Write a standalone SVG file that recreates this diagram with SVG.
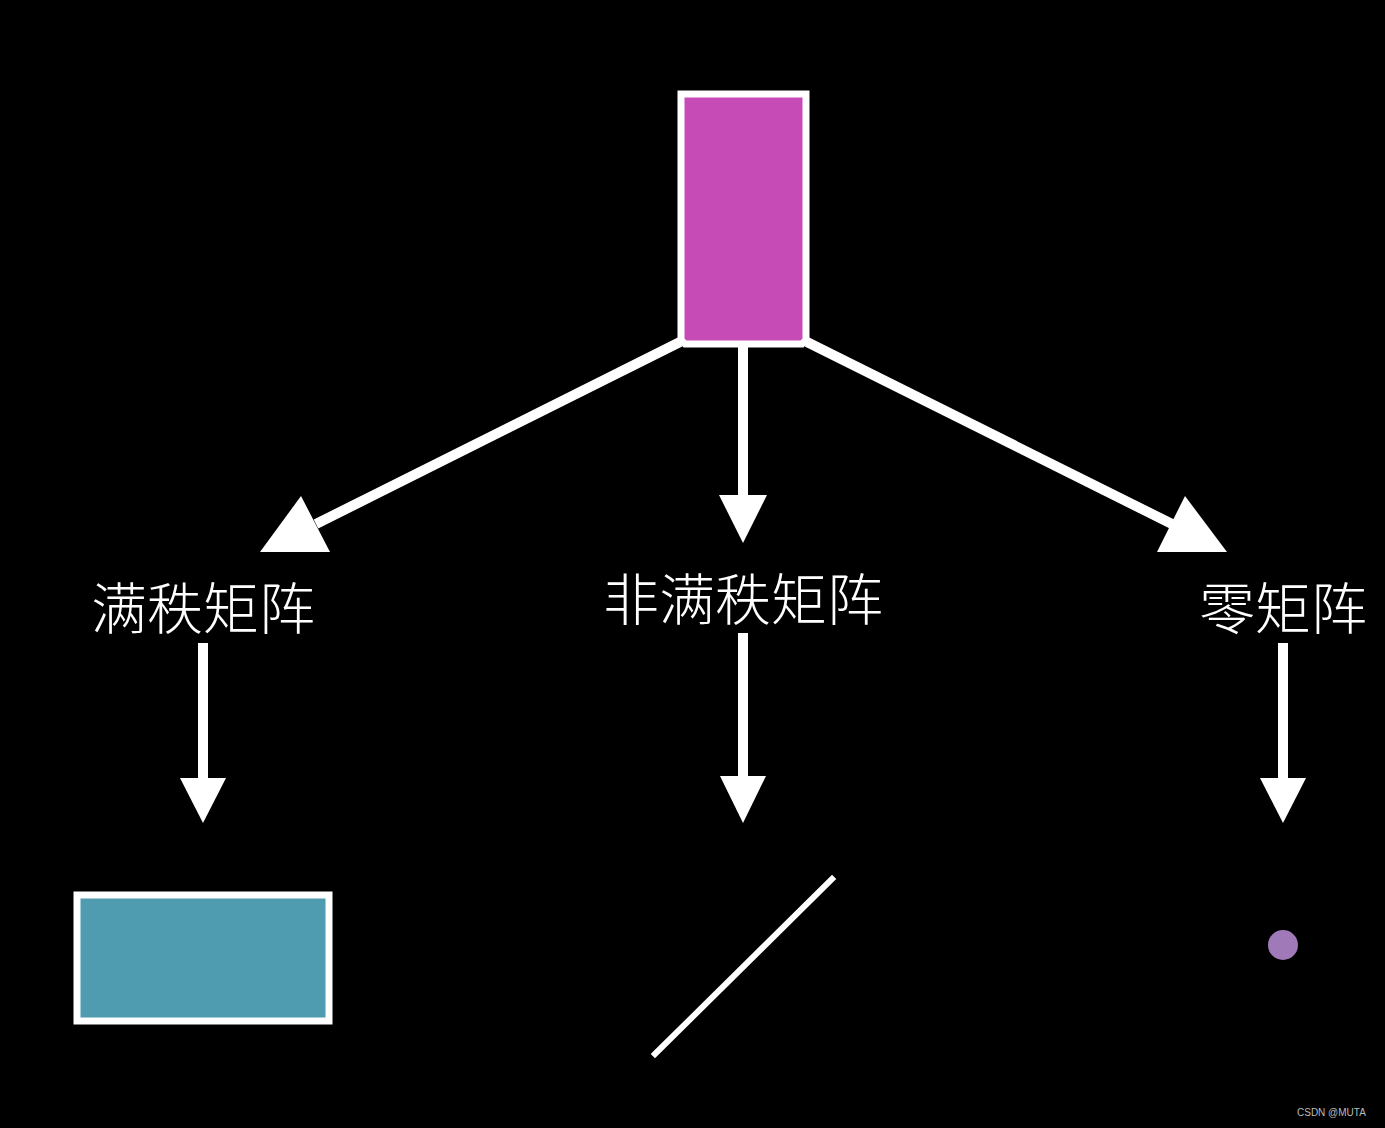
<svg xmlns="http://www.w3.org/2000/svg" width="1385" height="1128" viewBox="0 0 1385 1128">
<style>
.lbl{font-family:"Noto Sans CJK SC","Noto Sans CJK JP",sans-serif;font-size:56px;fill:#ffffff;text-anchor:middle;font-weight:300}
.shaft{stroke:#ffffff;stroke-width:10;fill:none}
.head{fill:#ffffff}
.wm{font-family:"Liberation Sans",Arial,sans-serif;font-size:10px;fill:#bbbbbb}
</style>
<rect width="1385" height="1128" fill="#000000"/>
<g id="connectors">
<line class="shaft" x1="680" y1="342" x2="316" y2="524"/>
<polygon class="head" points="301,496 260,552 330,552"/>
<line class="shaft" x1="743" y1="346" x2="743" y2="498"/>
<polygon class="head" points="719,495 767,495 743,543"/>
<line class="shaft" x1="807" y1="342" x2="1172" y2="524"/>
<polygon class="head" points="1185,496 1157,552 1227,552"/>
<line class="shaft" x1="203" y1="643" x2="203" y2="780"/>
<polygon class="head" points="180,778 226,778 203,823"/>
<line class="shaft" x1="743" y1="633" x2="743" y2="780"/>
<polygon class="head" points="720,776 766,776 743,823"/>
<line class="shaft" x1="1283" y1="643" x2="1283" y2="780"/>
<polygon class="head" points="1260,778 1306,778 1283,823"/>
</g>
<g id="source">
<path d="M681,94 H806 V340 L802,344 H685 L681,340 Z" fill="#c74bb7" stroke="#ffffff" stroke-width="7"/>
</g>
<g id="full-rank">
<text class="lbl" x="203" y="629">满秩矩阵</text>
</g>
<g id="not-full-rank">
<text class="lbl" x="743" y="620">非满秩矩阵</text>
</g>
<g id="zero">
<text class="lbl" x="1283" y="629">零矩阵</text>
</g>
<g id="full-rank-shape">
<rect x="77" y="895" width="252" height="126" fill="#4f9bb0" stroke="#ffffff" stroke-width="7"/>
</g>
<g id="not-full-rank-shape">
<line x1="655" y1="1054" x2="832" y2="879" stroke="#ffffff" stroke-width="6" stroke-linecap="square"/>
</g>
<g id="zero-shape">
<circle cx="1283" cy="945" r="15" fill="#a07ab8"/>
</g>
<text class="wm" x="1297" y="1116">CSDN @MUTA</text>
</svg>
